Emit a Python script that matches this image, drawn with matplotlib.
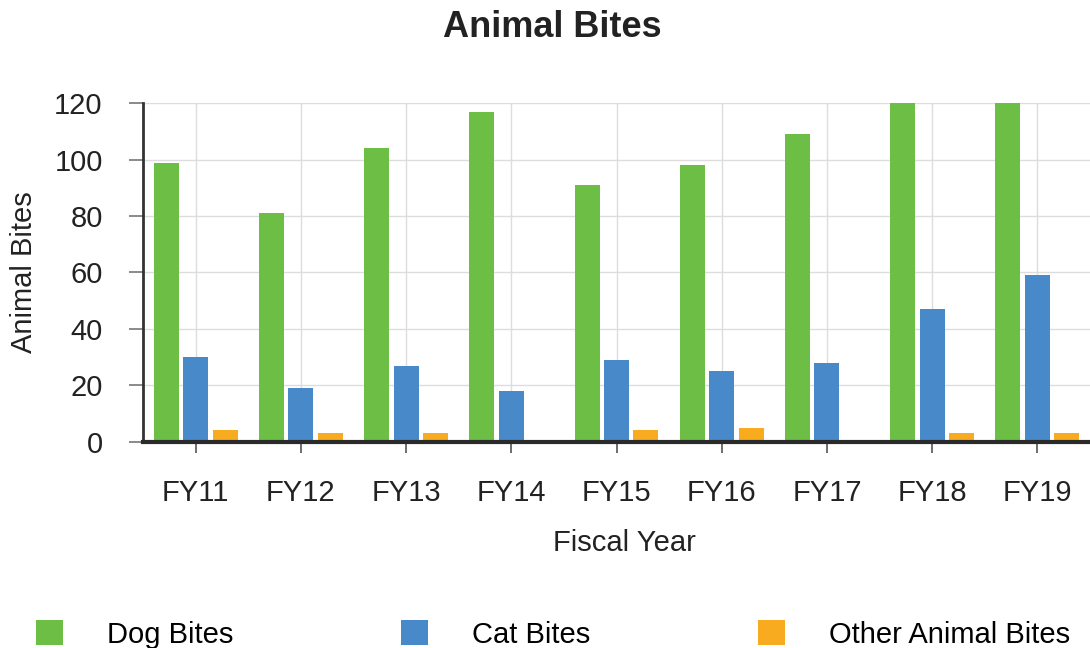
import numpy as np
import matplotlib.pyplot as plt
from matplotlib.patches import Patch

plt.rcParams['font.family'] = ['Liberation Sans', 'DejaVu Sans']

years = ['FY11', 'FY12', 'FY13', 'FY14', 'FY15', 'FY16', 'FY17', 'FY18', 'FY19']
dog_bites = [99, 81, 104, 117, 91, 98, 109, 120, 120]
cat_bites = [30, 19, 27, 18, 29, 25, 28, 47, 59]
other_bites = [4, 3, 3, 0, 4, 5, 0, 3, 3]

series = [
    ('Dog Bites', dog_bites, '#6dbe45'),
    ('Cat Bites', cat_bites, '#4889c9'),
    ('Other Animal Bites', other_bites, '#f9ab1f'),
]

fig = plt.figure(figsize=(10.9, 6.48), dpi=100)
ax = fig.add_axes([0.1312, 0.3184, 0.8688, 0.5222])

x = np.arange(len(years))
width = 0.237
offsets = [-0.28, 0.0, 0.28]
for (name, vals, color), off in zip(series, offsets):
    ax.bar(x + off, vals, width=width, color=color, label=name, zorder=2)

ax.set_xlim(-0.5, len(years) - 0.5)
ax.set_ylim(0, 120)
ax.set_yticks(range(0, 121, 20))
ax.set_xticks(x)
ax.set_xticklabels(years)

ax.grid(True, color='#dddddd', linewidth=1, zorder=0)
ax.set_axisbelow(True)

for side in ['top', 'right']:
    ax.spines[side].set_visible(False)
ax.spines['left'].set_color('#333333')
ax.spines['left'].set_linewidth(2)
ax.spines['bottom'].set_color('#2a2a2a')
ax.spines['bottom'].set_linewidth(3)

ax.tick_params(axis='y', length=10, width=1.2, color='#777777', pad=19,
               labelsize=21, labelcolor='#222222')
ax.tick_params(axis='x', length=8, width=1.2, color='#555555', pad=19,
               labelsize=21, labelcolor='#222222')

ax.set_xlabel('Fiscal Year', fontsize=21, color='#222222', labelpad=16)
ax.xaxis.label.set_x(0.508)
ax.set_ylabel('Animal Bites', fontsize=21, color='#222222', labelpad=12)

fig.suptitle('Animal Bites', x=0.507, y=0.985, fontsize=26, fontweight='bold',
             color='#222222')

handles = [Patch(facecolor=c, edgecolor='none') for _, _, c in series]
labels = [n for n, _, _ in series]
fig.legend(handles, labels, loc='upper left', bbox_to_anchor=(0.033, 0.043),
           ncol=3, frameon=False, fontsize=21, handlelength=0.93,
           handleheight=0.93, handletextpad=1.5, columnspacing=5.75,
           borderpad=0, borderaxespad=0)

fig.savefig('out.png', dpi=100)
